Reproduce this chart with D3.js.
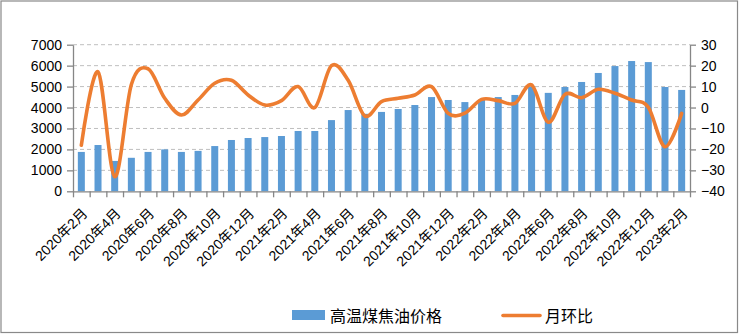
<!DOCTYPE html>
<html>
<head>
<meta charset="utf-8">
<script src="https://cdn.jsdelivr.net/npm/d3@7/dist/d3.min.js"></script>
<style>
  html, body { margin: 0; padding: 0; background: #fff; }
  svg { display: block; }
  text { font-family: "Liberation Sans", Arial, "Noto Sans CJK SC", sans-serif; }
</style>
</head>
<body>
<svg id="chart" width="739" height="334"></svg>
<script>
const categories = [
  "2020年2月","2020年3月","2020年4月","2020年5月","2020年6月","2020年7月","2020年8月","2020年9月","2020年10月","2020年11月","2020年12月",
  "2021年1月","2021年2月","2021年3月","2021年4月","2021年5月","2021年6月","2021年7月","2021年8月","2021年9月","2021年10月","2021年11月","2021年12月",
  "2022年1月","2022年2月","2022年3月","2022年4月","2022年5月","2022年6月","2022年7月","2022年8月","2022年9月","2022年10月","2022年11月","2022年12月",
  "2023年1月","2023年2月"
];
const priceValues = [1880,2210,1450,1600,1880,2000,1880,1930,2160,2450,2545,2590,2640,2880,2880,3400,3880,3700,3790,3930,4120,4500,4360,4260,4380,4500,4600,5000,4700,4980,5220,5650,5980,6220,6170,4980,4840];
const momValues = [-18,17,-33,11,18.5,4.4,-3.6,3.6,11.6,13,6,1.2,3.3,10,0,20,13,-4,2.8,4.4,6,10,-2.8,-2.7,3.9,3.3,2,10.8,-7,6.3,4.7,8.7,6.8,3.6,0.1,-18.7,-2.8];
const leftTicks = [0,1000,2000,3000,4000,5000,6000,7000];
const rightTicks = [-40,-30,-20,-10,0,10,20,30];
const seriesNames = ["高温煤焦油价格","月环比"];

const svg = d3.select("#chart");
const W = 739, H = 334;
const plot = {left: 73, right: 690, top: 44.7, bottom: 191.3};
const axisColor = "#868686";

svg.append("rect").attr("x", 1).attr("y", 1).attr("width", W - 2.5).attr("height", H - 2.5)
  .attr("fill", "#fff").attr("stroke", "#898989").attr("stroke-width", 1.2);

const x = d3.scaleBand().domain(categories).range([plot.left, plot.right])
  .paddingInner(0.58).paddingOuter(0.29);
const xEdge = d3.scaleLinear().domain([0, categories.length]).range([plot.left, plot.right]);
const yL = d3.scaleLinear().domain([0, 7000]).range([plot.bottom, plot.top]);
const yR = d3.scaleLinear().domain([-40, 30]).range([plot.bottom, plot.top]);

// gridlines
svg.append("g").selectAll("line").data(leftTicks.filter(d => d > 0)).join("line")
  .attr("x1", plot.left).attr("x2", plot.right)
  .attr("y1", d => yL(d)).attr("y2", d => yL(d))
  .attr("stroke", "#BFBFBF").attr("stroke-width", 1).attr("stroke-dasharray", "4,3");

// bars
svg.append("g").selectAll("rect").data(priceValues).join("rect")
  .attr("x", (d, i) => x(categories[i]))
  .attr("width", x.bandwidth())
  .attr("y", d => yL(d))
  .attr("height", d => yL(0) - yL(d))
  .attr("fill", "#5B9BD5");

// line
const line = d3.line()
  .x((d, i) => x(categories[i]) + x.bandwidth() / 2)
  .y(d => yR(d))
  .curve(d3.curveCardinal.tension(0));
svg.append("path").datum(momValues)
  .attr("d", line)
  .attr("fill", "none").attr("stroke", "#ED7D31").attr("stroke-width", 3.6)
  .attr("stroke-linejoin", "round").attr("stroke-linecap", "round");

// axes
function styleAxis(g) {
  g.selectAll(".domain").attr("stroke", axisColor).attr("stroke-width", 1.3);
  g.selectAll(".tick line").attr("stroke", axisColor).attr("stroke-width", 1.3);
  g.selectAll("text").attr("fill", "#000").style("font-size", "14px");
}
const gL = svg.append("g").attr("transform", `translate(${plot.left},0)`)
  .call(d3.axisLeft(yL).tickValues(leftTicks).tickSize(6).tickSizeOuter(0).tickPadding(5).tickFormat(d3.format("d")))
  .call(styleAxis);
const gR = svg.append("g").attr("transform", `translate(${plot.right},0)`)
  .call(d3.axisRight(yR).tickValues(rightTicks).tickSize(6).tickSizeOuter(0).tickPadding(5).tickFormat(d3.format("d")))
  .call(styleAxis);
const gB = svg.append("g").attr("transform", `translate(0,${plot.bottom})`)
  .call(d3.axisBottom(xEdge).tickValues(d3.range(categories.length + 1)).tickSize(6).tickSizeOuter(0).tickFormat(""))
  .call(styleAxis);

// x labels (every other month), rotated -45
svg.append("g").selectAll("text")
  .data(categories.filter((d, i) => i % 2 === 0)).join("text")
  .attr("transform", d => `translate(${x(d) + x.bandwidth() / 2 + 7},${plot.bottom + 23}) rotate(-45)`)
  .attr("text-anchor", "end")
  .style("font-size", "14px").attr("fill", "#000")
  .text(d => d);

// legend
const lg = svg.append("g");
lg.append("rect").attr("x", 292).attr("y", 310).attr("width", 33).attr("height", 10).attr("fill", "#5B9BD5");
lg.append("text").attr("x", 330).attr("y", 321.5).style("font-size", "16px").attr("fill", "#000").text(seriesNames[0]);
lg.append("line").attr("x1", 503).attr("x2", 540).attr("y1", 315.5).attr("y2", 315.5)
  .attr("stroke", "#ED7D31").attr("stroke-width", 3.6).attr("stroke-linecap", "round");
lg.append("text").attr("x", 545).attr("y", 321.5).style("font-size", "16px").attr("fill", "#000").text(seriesNames[1]);
</script>
</body>
</html>
